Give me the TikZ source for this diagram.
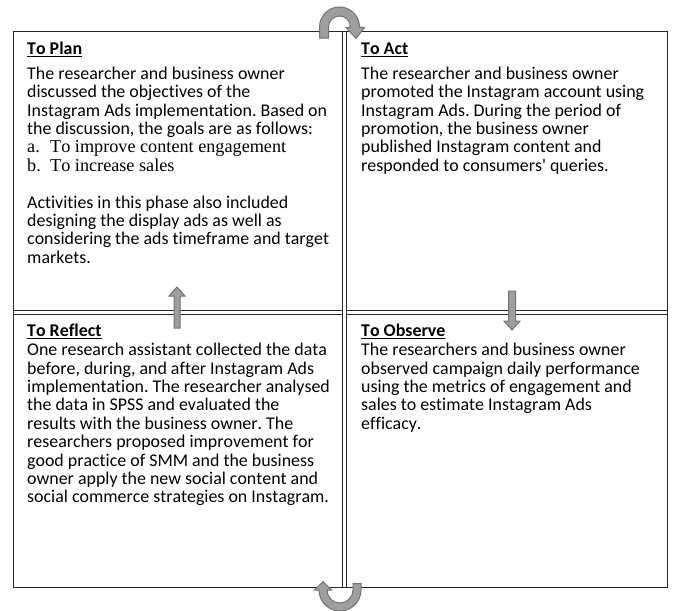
\documentclass[tikz,border=0pt]{standalone}
\usepackage{fontspec}
\setmainfont{Carlito}[Kerning=Off, Ligatures={NoCommon}]
\newfontfamily\tmsfont{Liberation Serif}[Kerning=Off]
\newcommand{\firstline}{\rule{0pt}{14pt}}
\newcommand{\listitem}[2]{{\tmsfont\fontsize{18.2}{18.4}\selectfont\makebox[23pt][l]{#1}#2}}
\frenchspacing
\begin{document}
\begin{tikzpicture}[x=1pt,y=-1pt,
  gridline/.style={draw=black!85, line width=0.9pt},
  head/.style={anchor=base west, inner sep=0pt, font=\fontsize{17.9}{18.4}\selectfont\bfseries},
  body/.style={anchor=north west, inner sep=0pt, align=left, font=\fontsize{17.9}{18.4}\selectfont},
  blockarrow/.style={fill=black!38, draw=black!55, line width=1pt, line join=miter}]
\useasboundingbox (0,0) rectangle (673,611);
\fill[white] (0,0) rectangle (673,611);

% table frame with double inner rules
\draw[gridline] (13,31.5) rectangle (667,587);
\draw[gridline] (342.7,31.5) -- (342.7,587);
\draw[gridline] (346.2,31.5) -- (346.2,587);
\draw[gridline] (13,310.7) -- (342.7,310.7) (346.2,310.7) -- (667,310.7);
\draw[gridline] (13,314.5) -- (342.7,314.5) (346.2,314.5) -- (667,314.5);

% cell headings
\node[head] (planT) at (27,54.5) {\underline{To Plan}};
\node[head] (actT) at (361,54.5) {\underline{To Act}};
\node[head] (reflT) at (27,336.5) {\underline{To Reflect}};
\node[head] (obsT) at (361,336.5) {\underline{To Observe}};

% cell texts
\node[body] (plan) at (27,65) {\firstline The researcher and business owner\\
discussed the objectives of the\\
Instagram Ads implementation. Based on\\
the discussion, the goals are as follows:\\
\listitem{a.}{To improve content engagement}\\
\listitem{b.}{To increase sales}\\[18.4pt]
Activities in this phase also included\\
designing the display ads as well as\\
considering the ads timeframe and target\\
markets.};

\node[body] (act) at (361,65) {\firstline The researcher and business owner\\
promoted the Instagram account using\\
Instagram Ads. During the period of\\
promotion, the business owner\\
published Instagram content and\\
responded to consumers\textquotesingle\ queries.};

\node[body] (refl) at (27,341.5) {\firstline One research assistant collected the data\\
before, during, and after Instagram Ads\\
implementation. The researcher analysed\\
the data in SPSS and evaluated the\\
results with the business owner. The\\
researchers proposed improvement for\\
good practice of SMM and the business\\
owner apply the new social content and\\
social commerce strategies on Instagram.};

\node[body] (obs) at (361,341.5) {\firstline The researchers and business owner\\
observed campaign daily performance\\
using the metrics of engagement and\\
sales to estimate Instagram Ads\\
efficacy.};

% cycle arrows
\draw[blockarrow] (319.5,38) -- (319.5,27) arc[start angle=180,end angle=360,radius=20]
  -- (364.5,27.5) -- (356,38.5) -- (346,27.5) -- (350.5,27)
  arc[start angle=360,end angle=180,radius=11] -- (328.5,38) -- cycle;
\draw[blockarrow] (361,583.5) -- (361,590) arc[start angle=0,end angle=180,radius=21]
  -- (314.5,590) -- (323,581.5) -- (331.5,590) -- (327,590)
  arc[start angle=180,end angle=0,radius=13] -- (353,583.5) -- cycle;

% straight block arrows between rows
\draw[blockarrow] (174,328) -- (174,296) -- (169,296) -- (177,287) -- (185,296)
  -- (180,296) -- (180,328) -- cycle;
\draw[blockarrow] (508.5,291) -- (508.5,321) -- (504,321) -- (512,330) -- (520,321)
  -- (515.5,321) -- (515.5,291) -- cycle;
\end{tikzpicture}
\end{document}
